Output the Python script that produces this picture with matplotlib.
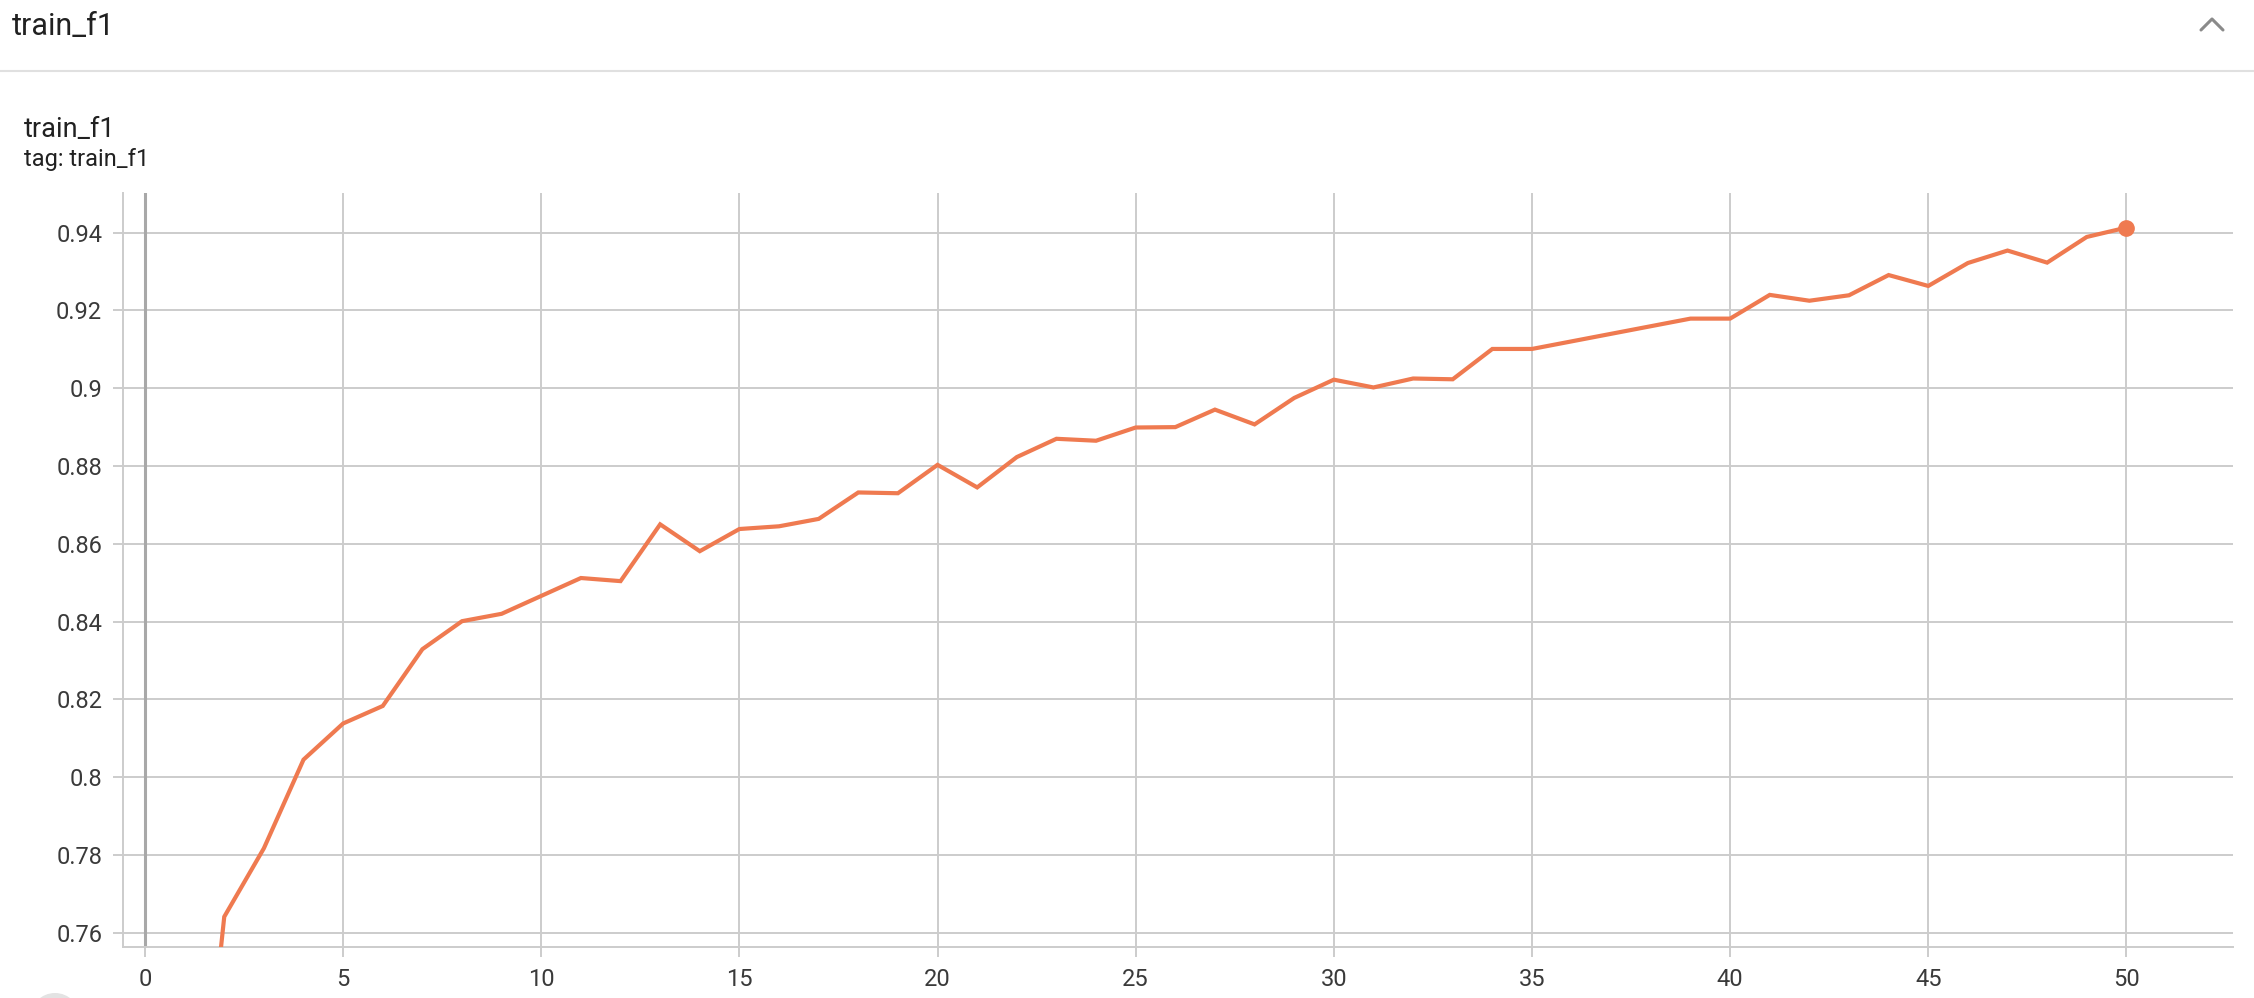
import numpy as np
import matplotlib
matplotlib.use("Agg")
from matplotlib import pyplot as plt
from matplotlib.lines import Line2D
from matplotlib.patches import Circle

plt.rcParams['font.family'] = ['Roboto', 'DejaVu Sans']

# steps and train_f1 values (36-38 not visible as separate points)
steps = [1, 2, 3, 4, 5, 6, 7, 8, 9, 10, 11, 12, 13, 14, 15, 16, 17, 18, 19, 20,
         21, 22, 23, 24, 25, 26, 27, 28, 29, 30, 31, 32, 33, 34, 35, 39, 40, 41,
         42, 43, 44, 45, 46, 47, 48, 49, 50]
f1 = [0.668, 0.7641, 0.7817, 0.8045, 0.8138, 0.8183, 0.8329, 0.8401, 0.8420, 0.8466,
      0.8512, 0.8504, 0.8650, 0.8581, 0.8638, 0.8645, 0.8664, 0.8732, 0.8730, 0.8803,
      0.8745, 0.8823, 0.8870, 0.8865, 0.8899, 0.8900, 0.8945, 0.8907, 0.8975, 0.9022,
      0.9002, 0.9025, 0.9023, 0.9101, 0.9101, 0.9179, 0.9179, 0.9240, 0.9225, 0.9239,
      0.9291, 0.9263, 0.9322, 0.9354, 0.9323, 0.9389, 0.9413]

x_ticks = [0, 5, 10, 15, 20, 25, 30, 35, 40, 45, 50]
y_ticks = [0.76, 0.78, 0.8, 0.82, 0.84, 0.86, 0.88, 0.9, 0.92, 0.94]
y_labels = ['0.76', '0.78', '0.8', '0.82', '0.84', '0.86', '0.88', '0.9', '0.92', '0.94']

W, H = 2254, 998
fig = plt.figure(figsize=(W / 100, H / 100), dpi=100)
fig.patch.set_facecolor('white')

def fx(px):
    return px / W

def fy(py):
    return 1 - py / H

# header bar
fig.text(fx(12), fy(35), 'train_f1', fontsize=22, color='#212121', va='baseline')
fig.add_artist(Line2D([0, 1], [fy(71), fy(71)], color='#e0e0e0', lw=1.5))
fig.add_artist(Line2D([fx(2201), fx(2212), fx(2223)], [fy(30), fy(19), fy(30)],
                      color='#8a8a8a', lw=2.2, solid_capstyle='round'))

# card title
fig.text(fx(24), fy(137), 'train_f1', fontsize=19.5, color='#212121', va='baseline')
fig.text(fx(24), fy(166), 'tag: train_f1', fontsize=17, color='#212121', va='baseline')

grid_c = '#cccccc'
ax = fig.add_axes([fx(123), fy(946.7), fx(2233) - fx(123), fy(193) - fy(946.7)])
ax.set_xlim(-0.555, 52.69)
ax.set_ylim(0.7564, 0.9502)

ax.plot(steps, f1, color='#ef7a50', lw=3.0, solid_joinstyle='miter', zorder=3)
ax.plot(steps[-1], f1[-1], 'o', color='#ef7a50', markersize=11, zorder=4)

ax.set_xticks(x_ticks)
ax.set_yticks(y_ticks)
ax.set_yticklabels(y_labels)
ax.grid(True, color=grid_c, lw=1.4)
ax.set_axisbelow(True)
ax.axvline(0, color='#a8a8a8', lw=2.2, zorder=1)

for s in ['top', 'right']:
    ax.spines[s].set_visible(False)
for s in ['left', 'bottom']:
    ax.spines[s].set_color(grid_c)
    ax.spines[s].set_linewidth(1.4)

ax.tick_params(axis='both', colors=grid_c, width=1.4, length=7, labelsize=17,
               labelcolor='#3a3a3a', pad=8)

# partially hidden round button at the lower left
fig.add_artist(Circle((0.55, -0.2), 0.25, transform=fig.dpi_scale_trans,
                      color='#e3e3e3', lw=0))

fig.savefig('out.png', dpi=100)
